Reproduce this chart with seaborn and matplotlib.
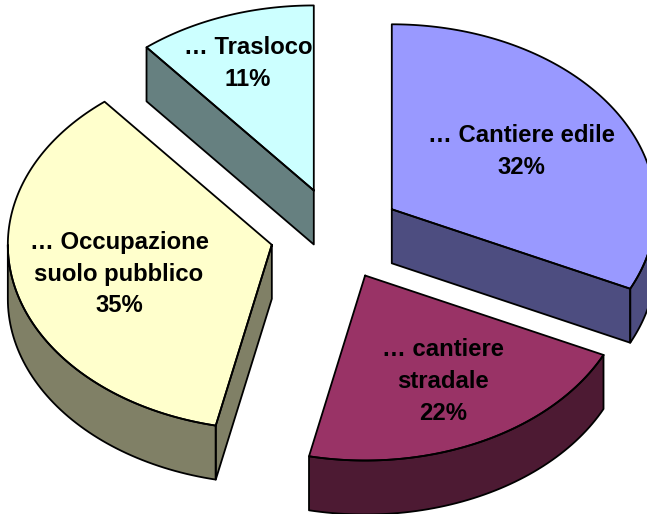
import numpy as np
import pandas as pd
import seaborn as sns
import matplotlib.pyplot as plt

# slices, clockwise from 12 o'clock
labels = ['… Cantiere edile\n32%', '… cantiere\nstradale\n22%', '… Occupazione\nsuolo pubblico\n35%', '… Trasloco\n11%']
values = [32.0, 21.3, 35.6, 10.9]
colors = ['#9999FF', '#993366', '#FFFFCC', '#CCFFFF']
label_pos = [(521, 152), (443, 382), (119, 274), (248, 64)]

# pie geometry in pixels
cx, cy = 336, 234
rx, ry = 264, 185
depth = 54
explode = 0.25

sns.set_theme(style='white')
plt.rcParams['font.family'] = ['Liberation Sans', 'DejaVu Sans']

fig = plt.figure(figsize=(6.47, 5.14), dpi=100)
ax = fig.add_axes([0, 0, 1, 1])


def darker(col):
    return tuple(c * 0.5 for c in sns.color_palette([col])[0])


def point(ang, r=1.0):
    # ang in degrees, clockwise from top
    a = np.radians(ang)
    return rx * r * np.sin(a), -ry * r * np.cos(a)


def face(xs, ys, col):
    ax.fill(xs, ys, color=col, lw=0)
    xs = list(xs) + [xs[0]]
    ys = list(ys) + [ys[0]]
    sns.lineplot(x=xs, y=ys, sort=False, estimator=None, color='black', lw=1.3, ax=ax, legend=False)


edges = np.cumsum([0] + values) / sum(values) * 360
for i, val in enumerate(values):
    start, end = edges[i], edges[i + 1]
    mid = (start + end) / 2
    ox, oy = point(mid, explode)
    ax0, ay0 = cx + ox, cy + oy
    side = darker(colors[i])

    # flat side walls, only the ones facing the viewer
    for ang, show in ((start, np.sin(np.radians(start)) < -1e-6), (end, np.sin(np.radians(end)) > 1e-6)):
        if show:
            px, py = point(ang)
            face([ax0, ax0 + px, ax0 + px, ax0], [ay0, ay0 + py, ay0 + py + depth, ay0 + depth], side)

    # outer curved wall, lower half of the ellipse only
    lo, hi = max(start, 90), min(end, 270)
    if lo < hi:
        t = np.linspace(lo, hi, 60)
        px, py = point(t)
        xs = ax0 + px
        ys = ay0 + py
        face(np.r_[xs, xs[::-1]], np.r_[ys, ys[::-1] + depth], side)

    # top face
    t = np.linspace(start, end, 120)
    px, py = point(t)
    face(np.r_[ax0, ax0 + px], np.r_[ay0, ay0 + py], colors[i])

for lab, (x, y) in zip(labels, label_pos):
    ax.text(x, y, lab, ha='center', va='center', fontsize=17.2, fontweight='bold', color='black', linespacing=1.5)

ax.set_xlim(0, 647)
ax.set_ylim(514, 0)
ax.axis('off')
fig.savefig('out.png', dpi=100, facecolor='white')
